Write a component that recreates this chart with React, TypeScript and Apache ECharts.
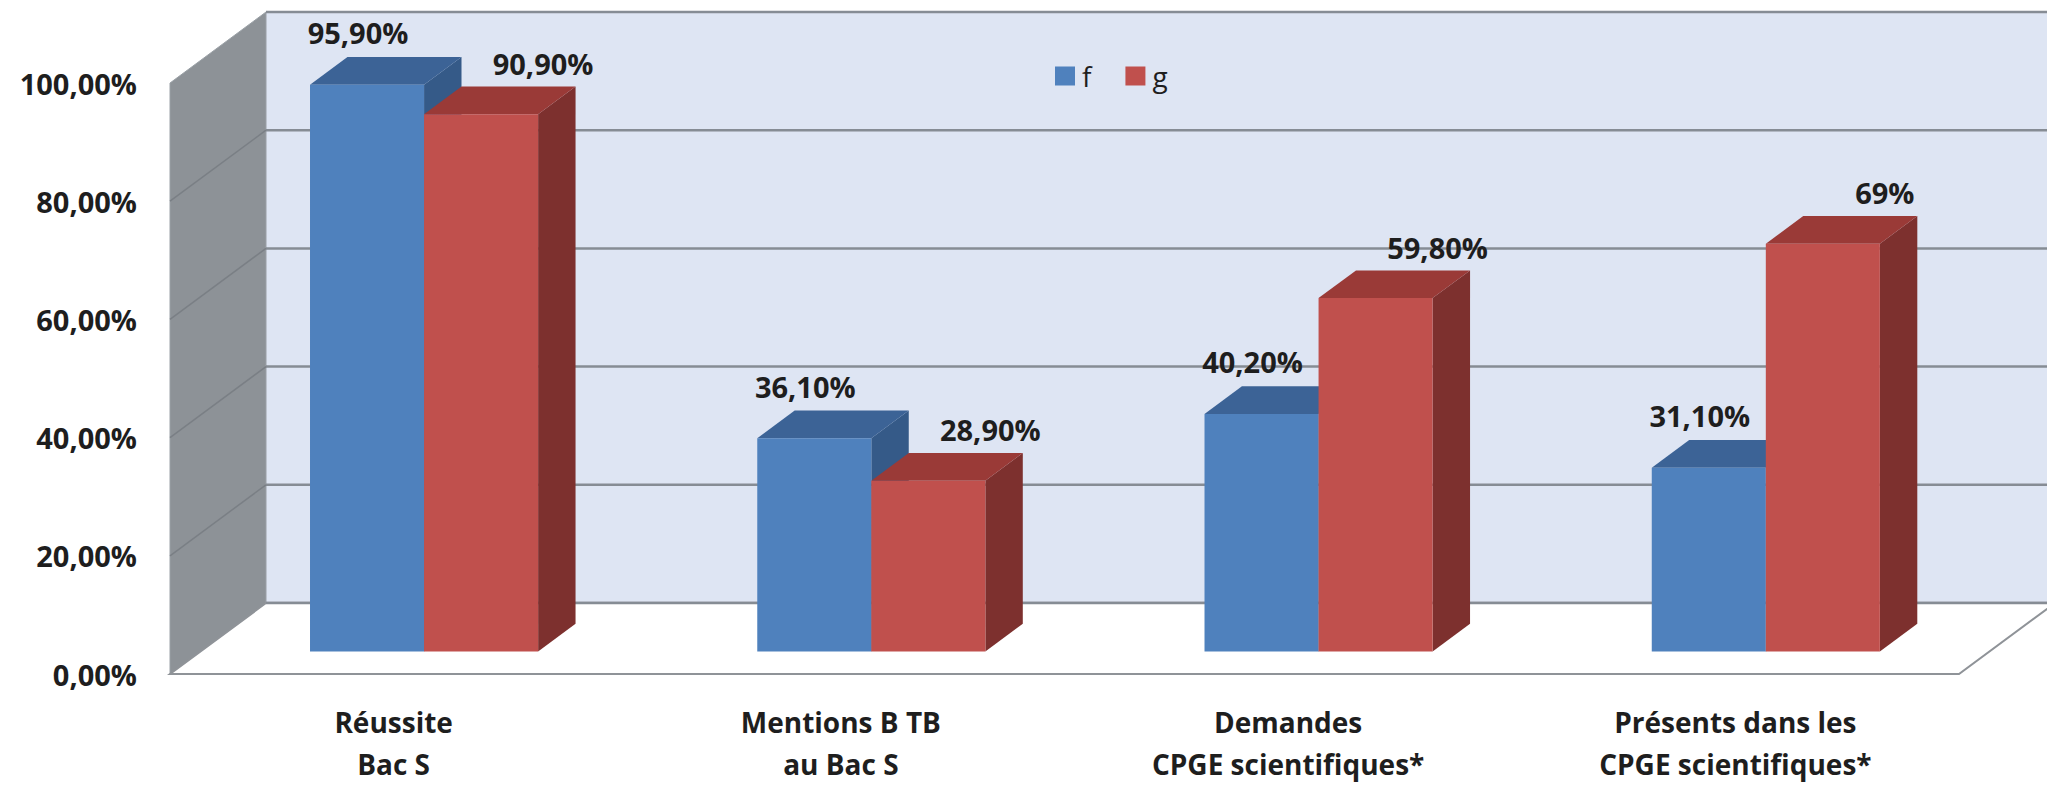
import React, { useEffect, useRef } from "react";
import * as echarts from "echarts";

// ---- data ----
const categories = [
  "Réussite\nBac S",
  "Mentions B TB\nau Bac S",
  "Demandes\nCPGE scientifiques*",
  "Présents dans les\nCPGE scientifiques*",
];
const seriesNames = ["f", "g"];
const fValues = [95.9, 36.1, 40.2, 31.1];
const gValues = [90.9, 28.9, 59.8, 69];
const yTicks = [0, 20, 40, 60, 80, 100];

// ---- 3D look (styles / geometry constants) ----
const DEPTH_X = 96;
const DEPTH_Y = 71;
const BAR_FRONT = 0.317;
const BAR_DEPTH = 0.39;
const BAR_RATIO = 0.255;
const FONT = "'Open Sans', 'Liberation Sans', sans-serif";
const TEXT_COLOR = "#1e1e1e";

const palettes = [
  { front: "#4f81bd", top: "#3c6396", side: "#355a88" },
  { front: "#c0504d", top: "#9a3a37", side: "#7d302e" },
];
const labelShift = [
  { dx: -9, dy: -52 },
  { dx: 62, dy: -51 },
];

const fmtPct = (v: number) =>
  Number.isInteger(v) ? `${v}%` : `${v.toFixed(2).replace(".", ",")}%`;

function makeBarRenderer(si: number) {
  return (params: any, api: any) => {
    const cat = api.value(0);
    const val = api.value(1);
    const top = api.coord([cat, val]);
    const base = api.coord([cat, 0]);
    const band = api.size([1, 0])[0];
    const w = band * BAR_RATIO;
    const ox = DEPTH_X * BAR_FRONT;
    const oy = DEPTH_Y * BAR_FRONT;
    const dx = DEPTH_X * BAR_DEPTH;
    const dy = DEPTH_Y * BAR_DEPTH;
    const xl = (si === 0 ? top[0] - w : top[0]) + ox;
    const xr = xl + w;
    const yt = top[1] - oy;
    const yb = base[1] - oy;
    const p = palettes[si];
    const sh = labelShift[si];
    return {
      type: "group",
      children: [
        {
          type: "polygon",
          shape: { points: [[xr, yt], [xr + dx, yt - dy], [xr + dx, yb - dy], [xr, yb]] },
          style: { fill: p.side },
        },
        {
          type: "polygon",
          shape: { points: [[xl, yt], [xl + dx, yt - dy], [xr + dx, yt - dy], [xr, yt]] },
          style: { fill: p.top },
        },
        {
          type: "rect",
          shape: { x: xl, y: yt, width: w, height: yb - yt },
          style: {
            fill: new echarts.graphic.LinearGradient(0, 0, 1, 0, [
              { offset: 0, color: p.front },
              { offset: 1, color: p.front },
            ]),
          },
        },
        {
          type: "text",
          style: {
            text: fmtPct(val),
            x: (xl + xr) / 2 + sh.dx,
            y: yt + sh.dy,
            align: "center",
            verticalAlign: "middle",
            fill: TEXT_COLOR,
            fontSize: 29,
            fontWeight: "bold",
            fontFamily: FONT,
          },
        },
      ],
    };
  };
}

function renderWalls(params: any, api: any) {
  const cs = params.coordSys;
  const x0 = cs.x;
  const y0 = cs.y;
  const w = cs.width;
  const h = cs.height;
  const yb = y0 + h;
  const children: any[] = [];
  // back wall
  children.push({
    type: "rect",
    shape: { x: x0 + DEPTH_X, y: y0 - DEPTH_Y, width: w, height: h },
    style: { fill: "#dee5f3" },
  });
  // side wall
  children.push({
    type: "polygon",
    shape: {
      points: [
        [x0, y0],
        [x0 + DEPTH_X, y0 - DEPTH_Y],
        [x0 + DEPTH_X, yb - DEPTH_Y],
        [x0, yb],
      ],
    },
    style: { fill: "#8d9297", stroke: "#9aa0a6", lineWidth: 1 },
  });
  // gridlines on back wall and side wall
  yTicks.forEach((t) => {
    const y = api.coord([0, t])[1];
    children.push({
      type: "line",
      shape: { x1: x0 + DEPTH_X, y1: y - DEPTH_Y, x2: x0 + w + DEPTH_X, y2: y - DEPTH_Y },
      style: { stroke: "#868c94", lineWidth: 2.5 },
    });
    if (t > 0 && t < 100) {
      children.push({
        type: "line",
        shape: { x1: x0, y1: y, x2: x0 + DEPTH_X, y2: y - DEPTH_Y },
        style: { stroke: "#7a7f85", lineWidth: 1.5 },
      });
    }
  });
  // floor
  children.push({
    type: "polygon",
    shape: {
      points: [
        [x0, yb],
        [x0 + DEPTH_X, yb - DEPTH_Y],
        [x0 + w + DEPTH_X, yb - DEPTH_Y],
        [x0 + w, yb],
      ],
    },
    style: { fill: "#ffffff", stroke: "#8f9398", lineWidth: 2 },
  });
  children.push({
    type: "line",
    shape: { x1: x0 + DEPTH_X, y1: yb - DEPTH_Y, x2: x0 + w + DEPTH_X, y2: yb - DEPTH_Y },
    style: { stroke: "#868c94", lineWidth: 2.5 },
  });
  return { type: "group", children };
}

export default function App() {
  const ref = useRef<HTMLDivElement>(null);
  useEffect(() => {
    if (!ref.current) return;
    const chart = echarts.init(ref.current, null, { renderer: "svg" });
    const allValues = [fValues, gValues];
    chart.setOption({
      animation: false,
      backgroundColor: "#ffffff",
      legend: {
        data: seriesNames,
        left: 1055,
        top: 62,
        padding: 0,
        icon: "rect",
        itemWidth: 20,
        itemHeight: 19,
        itemGap: 34,
        textStyle: {
          fontSize: 28,
          fontFamily: FONT,
          color: TEXT_COLOR,
          padding: [0, 0, 0, 2],
        },
      },
      grid: { left: 170, top: 83, width: 1789, height: 595, containLabel: false },
      xAxis: {
        type: "category",
        data: categories,
        axisLine: { show: false },
        axisTick: { show: false },
        splitLine: { show: false },
        axisLabel: {
          margin: 27,
          lineHeight: 42,
          fontSize: 28,
          fontWeight: "bold",
          fontFamily: FONT,
          color: TEXT_COLOR,
          interval: 0,
        },
      },
      yAxis: {
        type: "value",
        min: 0,
        max: 100,
        interval: 20,
        axisLine: { show: false },
        axisTick: { show: false },
        splitLine: { show: false },
        axisLabel: {
          margin: 33,
          padding: [10, 0, 0, 0],
          fontSize: 29,
          fontWeight: "bold",
          fontFamily: FONT,
          color: TEXT_COLOR,
          formatter: (v: number) => `${v.toFixed(2).replace(".", ",")}%`,
        },
      },
      series: [
        {
          type: "custom",
          name: "walls",
          z: 1,
          clip: false,
          silent: true,
          renderItem: renderWalls,
          data: [[0, 0]],
        },
        ...seriesNames.map((name, si) => ({
          type: "custom",
          name,
          z: 2 + si,
          clip: false,
          itemStyle: { color: palettes[si].front },
          renderItem: makeBarRenderer(si),
          data: allValues[si].map((v, i) => [i, v]),
        })),
      ],
    });
    return () => chart.dispose();
  }, []);
  return (
    <div
      ref={ref}
      style={{ position: "absolute", left: 0, top: 0, width: 2047, height: 785 }}
    />
  );
}
